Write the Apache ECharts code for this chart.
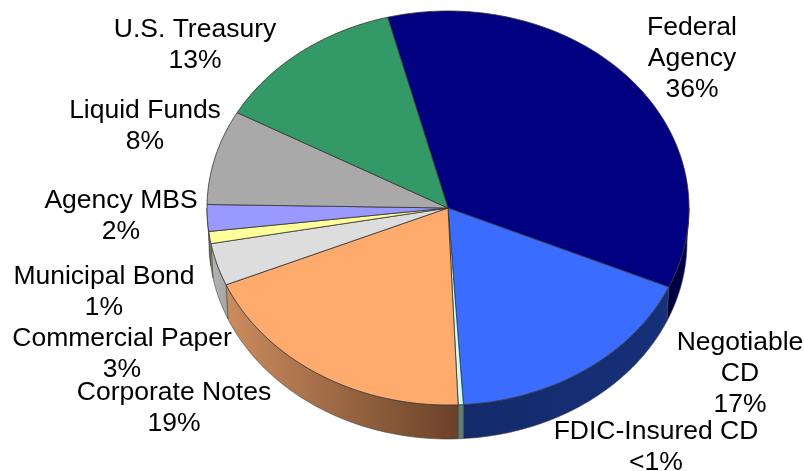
<!DOCTYPE html>
<html>
<head>
<meta charset="utf-8">
<style>html,body{margin:0;padding:0;background:#fff}#c{width:804px;height:471px}</style>
<script src="https://cdn.jsdelivr.net/npm/echarts@6/dist/echarts.min.js"></script>
</head>
<body>
<div id="c"></div>
<script>
// Data, clockwise from "Federal Agency"
const categories = ['Federal Agency','Negotiable CD','FDIC-Insured CD','Corporate Notes','Commercial Paper','Municipal Bond','Agency MBS','Liquid Funds','U.S. Treasury'];
const values = [35.8,17.5,0.35,19.4,3.5,1.0,2.2,7.8,13.0];
const percentLabels = ['36%','17%','<1%','19%','3%','1%','2%','8%','13%'];

// Presentation (kept apart from the data)
const labelLines = [['Federal','Agency'],['Negotiable','CD'],['FDIC-Insured CD'],['Corporate Notes'],['Commercial Paper'],['Municipal Bond'],['Agency MBS'],['Liquid Funds'],['U.S. Treasury']];
const labelAnchors = [[692,28],[740,343],[656,432],[174,393],[122,339],[104,277],[121,201],[145,111],[195,30]];
const topColors = ['#000080','#3A6CFF','#CCFFFF','#FFAB6E','#DDDDDD','#FFFF99','#9999FF','#A9A9A9','#339966'];
const wallColors = [['#00003C','#00004C'],['#132A6A','#16307A'],['#5A7F7C','#5A7F7C'],['#CC8C5E','#6A4128'],['#B4B4B4','#A4A4A4'],['#9A9A50','#9A9A50'],['#6A6AA8','#6A6AA8'],['#777','#777'],['#226644','#226644']];
const PIE = {cx:448, cy:208, rx:241, ry:197, wallRx:239, depth:34, start:-14.5};
const FONT = {family:'"Liberation Sans", Arial, sans-serif', size:26.5, lh:30.7};

const total = values.reduce((a,b)=>a+b,0);
const rad = d => d*Math.PI/180;
const pt = (deg,dy,rx) => [PIE.cx+(rx||PIE.rx)*Math.sin(rad(deg)), PIE.cy-PIE.ry*Math.cos(rad(deg))+(dy||0)];

function arc(a,b,dy,rx){
  const n=Math.max(2,Math.ceil(Math.abs(b-a)));
  const out=[];
  for(let i=0;i<=n;i++) out.push(pt(a+(b-a)*i/n,dy,rx));
  return out;
}

function renderItem(params, api){
  const i=params.dataIndex;
  const v=api.value(0);
  let before=0;
  for(let k=0;k<i;k++) before+=values[k];
  const a=PIE.start+before/total*360;
  const b=a+v/total*360;
  const children=[];
  // visible outer wall: the part of the slice between 90 and 270 degrees
  const s=Math.max(a,90), e=Math.min(b,270);
  if(e>s){
    const top=arc(s,e,0), bot=arc(s,e,PIE.depth,PIE.wallRx).reverse();
    const w=wallColors[i];
    children.push({type:'polygon',shape:{points:top.concat(bot)},
      style:{fill:new echarts.graphic.LinearGradient(0,0,1,0,[{offset:0,color:w[0]},{offset:1,color:w[1]}]),
             stroke:'#444',lineWidth:0.6,lineJoin:'round'}});
  }
  // top face
  const face=[[PIE.cx,PIE.cy]].concat(arc(a,b,0));
  children.push({type:'polygon',shape:{points:face},
    style:{fill:topColors[i],stroke:'#333',lineWidth:0.8,lineJoin:'round'}});
  // label
  const txt=labelLines[i].concat([percentLabels[i]]);
  txt.forEach((t,j)=>{
    children.push({type:'text',z2:10,style:{
      text:t,x:labelAnchors[i][0],y:labelAnchors[i][1]+j*FONT.lh,
      align:'center',verticalAlign:'middle',
      fontFamily:FONT.family,fontSize:FONT.size,fill:'#000'}});
  });
  return {type:'group',children};
}

const chart=echarts.init(document.getElementById('c'),null,{renderer:'canvas'});
chart.setOption({
  animation:false,
  backgroundColor:'#fff',
  series:[{type:'custom',coordinateSystem:'none',renderItem,
    data:categories.map((name,i)=>({name,value:[values[i]]})),silent:true}]
});
</script>
</body>
</html>
